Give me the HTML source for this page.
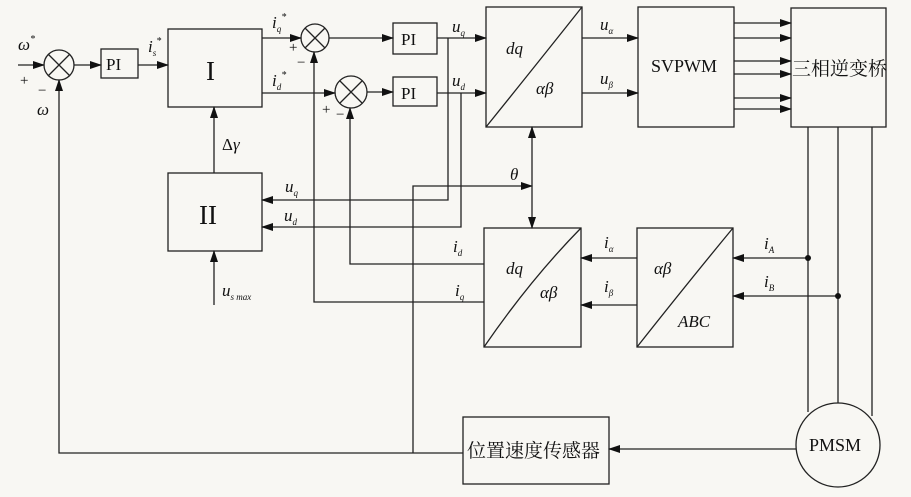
<!DOCTYPE html>
<html><head><meta charset="utf-8"><style>
body{margin:0;background:#f8f7f3}
svg{display:block}
text{font-family:"Liberation Serif","Noto Serif CJK SC",serif;fill:#111}
.i{font-style:italic}
</style></head><body>
<svg width="911" height="497" viewBox="0 0 911 497" xmlns="http://www.w3.org/2000/svg">
<defs><marker id="a" markerWidth="12" markerHeight="8" refX="11" refY="4" orient="auto" markerUnits="userSpaceOnUse"><path d="M0,0 L12,4 L0,8 Z" fill="#111"/></marker></defs>
<rect width="911" height="497" fill="#f8f7f3"/>
<g stroke="#222" stroke-width="1.3" fill="none">
<circle cx="59" cy="65" r="15"/><path d="M48,54 L70,76 M70,54 L48,76"/>
<circle cx="315" cy="38" r="14"/><path d="M305,28 L325,48 M325,28 L305,48"/>
<circle cx="351" cy="92" r="16"/><path d="M340,81 L362,103 M362,81 L340,103"/>
<rect x="101" y="49" width="37" height="29"/>
<rect x="168" y="29" width="94" height="78"/>
<rect x="168" y="173" width="94" height="78"/>
<rect x="393" y="23" width="44" height="31"/>
<rect x="393" y="77" width="44" height="29"/>
<rect x="486" y="7" width="96" height="120"/><path d="M486,127 Q540,60 582,7"/>
<rect x="638" y="7" width="96" height="120"/>
<rect x="791" y="8" width="95" height="119"/>
<rect x="484" y="228" width="97" height="119"/><path d="M484,347 Q530,280 581,228"/>
<rect x="637" y="228" width="96" height="119"/><path d="M637,347 Q690,280 733,228"/>
<rect x="463" y="417" width="146" height="67"/>
<circle cx="838" cy="445" r="42"/>
<path d="M18,65 L44,65" marker-end="url(#a)"/>
<path d="M74,65 L101,65" marker-end="url(#a)"/>
<path d="M138,65 L168,65" marker-end="url(#a)"/>
<path d="M262,38 L301,38" marker-end="url(#a)"/>
<path d="M329,38 L393,38" marker-end="url(#a)"/>
<path d="M262,93 L335,93" marker-end="url(#a)"/>
<path d="M367,92 L393,92" marker-end="url(#a)"/>
<path d="M437,38 L486,38" marker-end="url(#a)"/>
<path d="M437,93 L486,93" marker-end="url(#a)"/>
<path d="M448,38 L448,200 L262,200" marker-end="url(#a)"/>
<path d="M461,93 L461,227 L262,227" marker-end="url(#a)"/>
<path d="M214,173 L214,107" marker-end="url(#a)"/>
<path d="M214,305 L214,251" marker-end="url(#a)"/>
<path d="M484,302 L314,302 L314,52" marker-end="url(#a)"/>
<path d="M484,264 L350,264 L350,108" marker-end="url(#a)"/>
<path d="M413,453 L413,186 L532,186" marker-end="url(#a)"/>
<path d="M532,186 L532,127" marker-end="url(#a)"/>
<path d="M532,186 L532,228" marker-end="url(#a)"/>
<path d="M582,38 L638,38" marker-end="url(#a)"/>
<path d="M582,93 L638,93" marker-end="url(#a)"/>
<path d="M734,23 L791,23" marker-end="url(#a)"/>
<path d="M734,38 L791,38" marker-end="url(#a)"/>
<path d="M734,61 L791,61" marker-end="url(#a)"/>
<path d="M734,74 L791,74" marker-end="url(#a)"/>
<path d="M734,98 L791,98" marker-end="url(#a)"/>
<path d="M734,109 L791,109" marker-end="url(#a)"/>
<path d="M808,127 L808,412 M838,127 L838,403 M872,127 L872,416"/>
<path d="M808,258 L733,258" marker-end="url(#a)"/>
<path d="M838,296 L733,296" marker-end="url(#a)"/>
<path d="M637,258 L581,258" marker-end="url(#a)"/>
<path d="M637,305 L581,305" marker-end="url(#a)"/>
<path d="M796,449 L609,449" marker-end="url(#a)"/>
<path d="M463,453 L59,453 L59,80" marker-end="url(#a)"/>
</g>
<circle cx="808" cy="258" r="3" fill="#111"/><circle cx="838" cy="296" r="3" fill="#111"/>
<g font-size="17">
<text x="106" y="70">PI</text><text x="401" y="45">PI</text><text x="401" y="99">PI</text>
<text x="206" y="80" font-size="27">I</text><text x="199" y="224" font-size="27">II</text>
<text x="651" y="72" font-size="18">SVPWM</text>
<text x="792" y="75" font-size="19">三相逆变桥</text>
<text x="467" y="457" font-size="19">位置速度传感器</text>
<text x="809" y="451" font-size="18">PMSM</text>
</g>
<g font-size="17" class="i">
<text x="506" y="54" class="i">dq</text><text x="536" y="94" class="i">αβ</text>
<text x="506" y="274" class="i">dq</text><text x="540" y="298" class="i">αβ</text>
<text x="654" y="274" class="i">αβ</text><text x="678" y="327" class="i">ABC</text>
<text x="18" y="50" class="i">ω<tspan font-size="10" dy="-8">*</tspan></text>
<text x="37" y="115" class="i">ω</text>
<text x="148" y="52" class="i">i<tspan font-size="9" dy="4">s</tspan><tspan font-size="10" dy="-12">*</tspan></text>
<text x="272" y="28" class="i">i<tspan font-size="9" dy="4">q</tspan><tspan font-size="10" dy="-12">*</tspan></text>
<text x="272" y="86" class="i">i<tspan font-size="9" dy="4">d</tspan><tspan font-size="10" dy="-12">*</tspan></text>
<text x="452" y="32" class="i">u<tspan font-size="9" dy="4">q</tspan></text>
<text x="452" y="86" class="i">u<tspan font-size="9" dy="4">d</tspan></text>
<text x="600" y="30" class="i">u<tspan font-size="9" dy="4">α</tspan></text>
<text x="600" y="84" class="i">u<tspan font-size="9" dy="4">β</tspan></text>
<text x="285" y="192" class="i">u<tspan font-size="9" dy="4">q</tspan></text>
<text x="284" y="221" class="i">u<tspan font-size="9" dy="4">d</tspan></text>
<text x="510" y="180" class="i">θ</text>
<text x="222" y="296" class="i">u<tspan font-size="9" dy="4">s max</tspan></text>
<text x="453" y="252" class="i">i<tspan font-size="9" dy="4">d</tspan></text>
<text x="455" y="296" class="i">i<tspan font-size="9" dy="4">q</tspan></text>
<text x="604" y="248" class="i">i<tspan font-size="9" dy="4">α</tspan></text>
<text x="604" y="292" class="i">i<tspan font-size="9" dy="4">β</tspan></text>
<text x="764" y="249" class="i">i<tspan font-size="9" dy="4">A</tspan></text>
<text x="764" y="287" class="i">i<tspan font-size="9" dy="4">B</tspan></text>
</g>
<text x="222" y="150" font-size="17">Δ<tspan class="i">γ</tspan></text>
<g font-size="15"><text x="20" y="85">+</text><text x="38" y="95">−</text>
<text x="289" y="52">+</text><text x="297" y="67">−</text>
<text x="322" y="114">+</text><text x="336" y="119">−</text></g>
</svg>
</body></html>
